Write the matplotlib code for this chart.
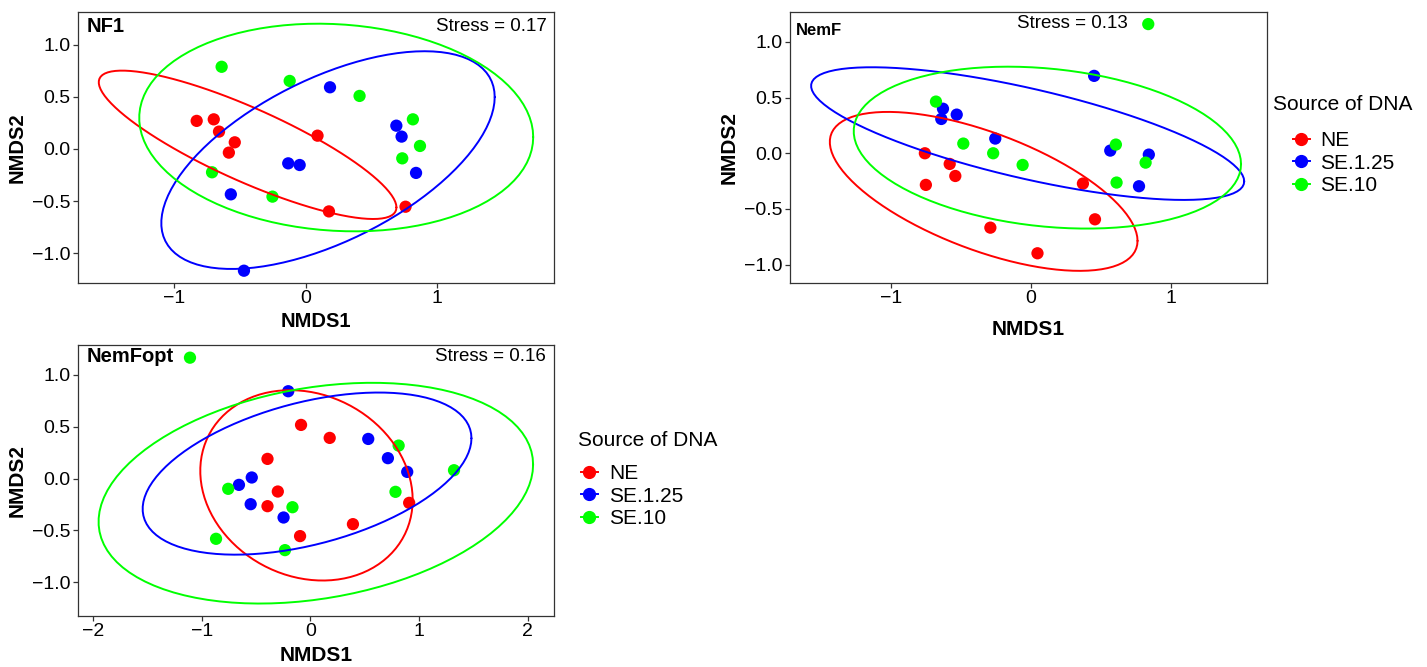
import numpy as np
import matplotlib
matplotlib.use('Agg')
import matplotlib.pyplot as plt
from matplotlib.lines import Line2D

plt.rcParams['font.family'] = ['Liberation Sans', 'DejaVu Sans']

groups = ['NE', 'SE.1.25', 'SE.10']
colors = ['#FF0000', '#0000FF', '#00FF00']

# NF1 scores
nf1_ne_x = [-0.83, -0.70, -0.66, -0.54, -0.585, 0.09, 0.177, 0.76]
nf1_ne_y = [0.27, 0.285, 0.167, 0.064, -0.035, 0.128, -0.60, -0.555]
nf1_se125_x = [0.185, 0.69, 0.73, 0.84, -0.133, -0.046, -0.57, -0.47]
nf1_se125_y = [0.593, 0.224, 0.119, -0.23, -0.138, -0.154, -0.436, -1.17]
nf1_se10_x = [-0.64, -0.122, 0.41, 0.816, 0.87, 0.735, -0.713, -0.253]
nf1_se10_y = [0.79, 0.654, 0.51, 0.285, 0.029, -0.09, -0.224, -0.458]

# NemF scores
nemf_ne_x = [-0.757, -0.75, -0.58, -0.54, -0.29, 0.046, 0.37, 0.456]
nemf_ne_y = [0.0, -0.284, -0.096, -0.204, -0.668, -0.898, -0.272, -0.593]
nemf_se125_x = [0.45, -0.628, -0.64, -0.53, -0.255, 0.565, 0.84, 0.77]
nemf_se125_y = [0.695, 0.40, 0.308, 0.347, 0.132, 0.024, -0.012, -0.296]
nemf_se10_x = [0.836, -0.678, -0.483, -0.27, -0.06, 0.605, 0.817, 0.61]
nemf_se10_y = [1.16, 0.464, 0.087, 0.0, -0.105, 0.078, -0.084, -0.263]

# NemFopt scores
opt_ne_x = [-0.086, 0.178, -0.395, -0.30, -0.395, -0.095, 0.392, 0.91]
opt_ne_y = [0.516, 0.391, 0.189, -0.125, -0.266, -0.554, -0.439, -0.234]
opt_se125_x = [-0.204, 0.533, 0.714, 0.892, -0.54, -0.658, -0.55, -0.247]
opt_se125_y = [0.84, 0.381, 0.196, 0.064, 0.01, -0.061, -0.247, -0.375]
opt_se10_x = [-1.109, 0.813, 1.323, 0.784, -0.757, -0.165, -0.869, -0.234]
opt_se10_y = [1.163, 0.317, 0.08, -0.128, -0.099, -0.276, -0.58, -0.689]

stress = ['Stress = 0.17', 'Stress = 0.13', 'Stress = 0.16']


def cov_trob(xy, nu=5, maxit=25, tol=0.01):
    # robust t covariance, same steps as MASS::cov.trob
    n, p = xy.shape
    loc = xy.mean(axis=0)
    w = np.ones(n)
    for _ in range(maxit):
        w0 = w
        X = xy - loc
        _, d, vt = np.linalg.svd(np.sqrt(w / w.sum())[:, None] * X, full_matrices=False)
        wX = (X @ vt.T) / d
        Q = (wX ** 2).sum(axis=1)
        w = (nu + p) / (nu + Q)
        loc = (w[:, None] * xy).sum(axis=0) / w.sum()
        if np.all(np.abs(w - w0) < tol):
            break
    cov = (np.sqrt(w)[:, None] * X).T @ (np.sqrt(w)[:, None] * X) / n
    return loc, cov


def ellipse(x, y, level=0.9, segments=100):
    xy = np.column_stack([x, y])
    center, shape = cov_trob(xy)
    dfd = len(x) - 1
    qf = dfd / 2 * ((1 - level) ** (-2 / dfd) - 1)  # F(2, dfd) quantile
    radius = np.sqrt(2 * qf)
    a = np.linspace(0, 2 * np.pi, segments)
    circle = np.column_stack([np.cos(a), np.sin(a)])
    L = np.linalg.cholesky(shape)
    pts = center + radius * circle @ L.T
    return pts[:, 0], pts[:, 1]


def style(ax, xlim, ylim, xticks, fs_tick, fs_lab, xlab_y):
    ax.set_xlim(xlim)
    ax.set_ylim(ylim)
    ax.set_xticks(xticks)
    ax.set_xticklabels([str(t).replace('-', '\u2212') for t in xticks])
    yt = [-1.0, -0.5, 0.0, 0.5, 1.0]
    ax.set_yticks(yt)
    ax.set_yticklabels([f'{t:.1f}'.replace('-', '\u2212') for t in yt])
    for s in ax.spines.values():
        s.set_color('#333333')
        s.set_linewidth(0.9)
    ax.tick_params(length=3.5, width=0.9, color='#333333', labelsize=fs_tick,
                   labelcolor='black', pad=2)
    ax.set_xlabel('NMDS1', fontsize=fs_lab, fontweight='bold')
    ax.set_ylabel('NMDS2', fontsize=fs_lab, fontweight='bold')
    ax.xaxis.set_label_coords(0.5, xlab_y)
    ax.xaxis.label.set_va('center')
    ax.yaxis.set_label_coords(-0.127, 0.5)
    ax.yaxis.label.set_va('center')


fig = plt.figure(figsize=(14.27, 6.67), dpi=100)
ax1 = fig.add_axes([0.0547, 0.5762, 0.3336, 0.4054])
ax2 = fig.add_axes([0.5536, 0.5762, 0.3343, 0.4054])
ax3 = fig.add_axes([0.0547, 0.0769, 0.3336, 0.4054])

panels = [
    (ax1, [(nf1_ne_x, nf1_ne_y), (nf1_se125_x, nf1_se125_y), (nf1_se10_x, nf1_se10_y)]),
    (ax2, [(nemf_ne_x, nemf_ne_y), (nemf_se125_x, nemf_se125_y), (nemf_se10_x, nemf_se10_y)]),
    (ax3, [(opt_ne_x, opt_ne_y), (opt_se125_x, opt_se125_y), (opt_se10_x, opt_se10_y)]),
]

for ax, data in panels:
    for (x, y), c in zip(data, colors):
        ax.scatter(x, y, s=78, color=c, edgecolors='none', zorder=2)
    for (x, y), c in zip(data, colors):
        ex, ey = ellipse(x, y)
        ax.plot(ex, ey, color=c, lw=1.4, zorder=3,
                solid_capstyle='round', solid_joinstyle='round')

style(ax1, (-1.733, 1.891), (-1.285, 1.314), [-1, 0, 1], 14, 14.5, -0.142)
style(ax2, (-1.719, 1.683), (-1.162, 1.266), [-1, 0, 1], 14, 15, -0.175)
style(ax3, (-2.14, 2.245), (-1.32, 1.282), [-2, -1, 0, 1, 2], 14, 15, -0.149)

ax1.text(0.017, 0.946, 'NF1', transform=ax1.transAxes, fontsize=14.5, fontweight='bold',
         ha='left', va='center')
ax1.text(0.985, 0.946, stress[0], transform=ax1.transAxes, fontsize=13.5, ha='right', va='center')
ax2.text(0.013, 0.931, 'NemF', transform=ax2.transAxes, fontsize=12, fontweight='bold',
         ha='left', va='center')
ax2.text(0.591, 0.957, stress[1], transform=ax2.transAxes, fontsize=13.5, ha='center', va='center')
ax3.text(0.017, 0.957, 'NemFopt', transform=ax3.transAxes, fontsize=14.5, fontweight='bold',
         ha='left', va='center')
ax3.text(0.983, 0.957, stress[2], transform=ax3.transAxes, fontsize=13.5, ha='right', va='center')

handles = [Line2D([], [], color=c, marker='o', markersize=8.5, lw=1.4) for c in colors]

fig.text(0.8921, 0.8426, 'Source of DNA', fontsize=15, ha='left', va='center')
fig.legend(handles, groups, loc='upper left', bbox_to_anchor=(0.9061, 0.803),
           frameon=False, fontsize=15, borderpad=0, borderaxespad=0,
           handlelength=0.8, handletextpad=0.5, labelspacing=0.16)

fig.text(0.4050, 0.3403, 'Source of DNA', fontsize=15, ha='left', va='center')
fig.legend(handles, groups, loc='upper left', bbox_to_anchor=(0.4072, 0.304),
           frameon=False, fontsize=15, borderpad=0, borderaxespad=0,
           handlelength=0.8, handletextpad=0.55, labelspacing=0.16)

fig.savefig('out.png', dpi=100)
